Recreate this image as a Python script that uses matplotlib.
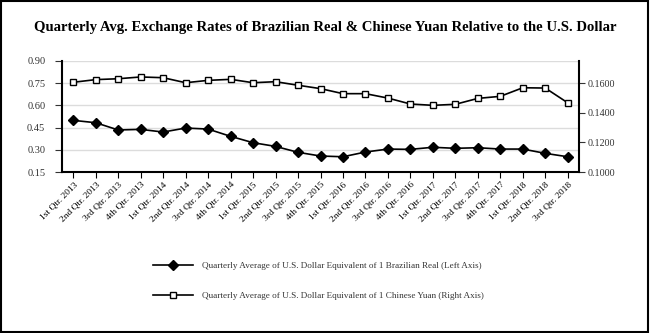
import numpy as np
import matplotlib
matplotlib.use('Agg')
import matplotlib.pyplot as plt
from matplotlib.patches import Rectangle

plt.rcParams['font.family'] = ['Liberation Serif', 'DejaVu Serif']

quarters = ['1st Qtr. 2013', '2nd Qtr. 2013', '3rd Qtr. 2013', '4th Qtr. 2013',
            '1st Qtr. 2014', '2nd Qtr. 2014', '3rd Qtr. 2014', '4th Qtr. 2014',
            '1st Qtr. 2015', '2nd Qtr. 2015', '3rd Qtr. 2015', '4th Qtr. 2015',
            '1st Qtr. 2016', '2nd Qtr. 2016', '3rd Qtr. 2016', '4th Qtr. 2016',
            '1st Qtr. 2017', '2nd Qtr. 2017', '3rd Qtr. 2017', '4th Qtr. 2017',
            '1st Qtr. 2018', '2nd Qtr. 2018', '3rd Qtr. 2018']
brl = [0.499, 0.483, 0.434, 0.438, 0.420, 0.447, 0.440, 0.391, 0.348, 0.323,
       0.283, 0.258, 0.253, 0.285, 0.305, 0.303, 0.317, 0.310, 0.314, 0.305,
       0.305, 0.276, 0.253]
cny = [0.1607, 0.1625, 0.1631, 0.1643, 0.1638, 0.1604, 0.1620, 0.1627, 0.1604,
       0.1611, 0.1587, 0.1564, 0.1530, 0.1530, 0.1500, 0.1460, 0.1451, 0.1458,
       0.1498, 0.1512, 0.1570, 0.1568, 0.1468]
left_ticks = [0.15, 0.30, 0.45, 0.60, 0.75, 0.90]
right_ticks = [0.10, 0.12, 0.14, 0.16]

fig = plt.figure(figsize=(6.5, 3.33), dpi=100)
ax = fig.add_axes([62/650, 1-172/333, (579-62)/650, (172-61)/333])
ax2 = ax.twinx()

x = np.arange(len(quarters))
l1, = ax.plot(x, brl, '-D', color='black', lw=1.2, ms=5, mfc='black',
              label='Quarterly Average of U.S. Dollar Equivalent of 1 Brazilian Real (Left Axis)')
l2, = ax2.plot(x, cny, '-s', color='black', lw=1.2, ms=4.5, mfc='white', mew=1,
               label='Quarterly Average of U.S. Dollar Equivalent of 1 Chinese Yuan (Right Axis)')

ax.set_ylim(0.15, 0.90)
ax.set_yticks(left_ticks)
ax.set_yticklabels(['%.2f' % v for v in left_ticks])
ax2.set_ylim(0.10, 0.1751)
ax2.set_yticks(right_ticks)
ax2.set_yticklabels(['%.4f' % v for v in right_ticks])
ax.set_xlim(-0.5, len(quarters) - 0.5)
ax.set_xticks(x)
ax.set_xticklabels(quarters, rotation=45, ha='right', rotation_mode='anchor')

ax.yaxis.grid(True, color='#dcdcdc', lw=1)
ax.set_axisbelow(True)
for a in (ax, ax2):
    a.spines['top'].set_visible(False)
    for s in ('left', 'right', 'bottom'):
        a.spines[s].set_linewidth(1.5)
ax2.spines['left'].set_visible(False)
ax2.spines['bottom'].set_visible(False)
ax.spines['right'].set_visible(False)

ax.tick_params(axis='y', labelsize=7.5, length=5, width=0.8, pad=7, colors='#333333')
ax.tick_params(axis='x', labelsize=6.8, length=4, width=0.8, pad=2)
ax2.tick_params(axis='y', labelsize=7.2, length=4, width=0.8, pad=2, colors='#333333')

fig.suptitle('Quarterly Avg. Exchange Rates of Brazilian Real & Chinese Yuan Relative to the U.S. Dollar',
             x=0.5, y=1-27/333, va='center', fontsize=10.6, fontweight='bold')

leg = fig.legend(handles=[l1, l2], loc='upper left', bbox_to_anchor=(153/650, 1-262/333),
                 frameon=False, fontsize=6.6, handlelength=4.4, handletextpad=0.95,
                 labelspacing=2.3, borderpad=0, borderaxespad=0)
for t in leg.get_texts():
    t.set_color('#333333')

fig.patches.append(Rectangle((0.002, 0.004), 0.995, 0.992, transform=fig.transFigure,
                             fill=False, edgecolor='black', lw=1.5))

fig.savefig('out.png', dpi=100)
